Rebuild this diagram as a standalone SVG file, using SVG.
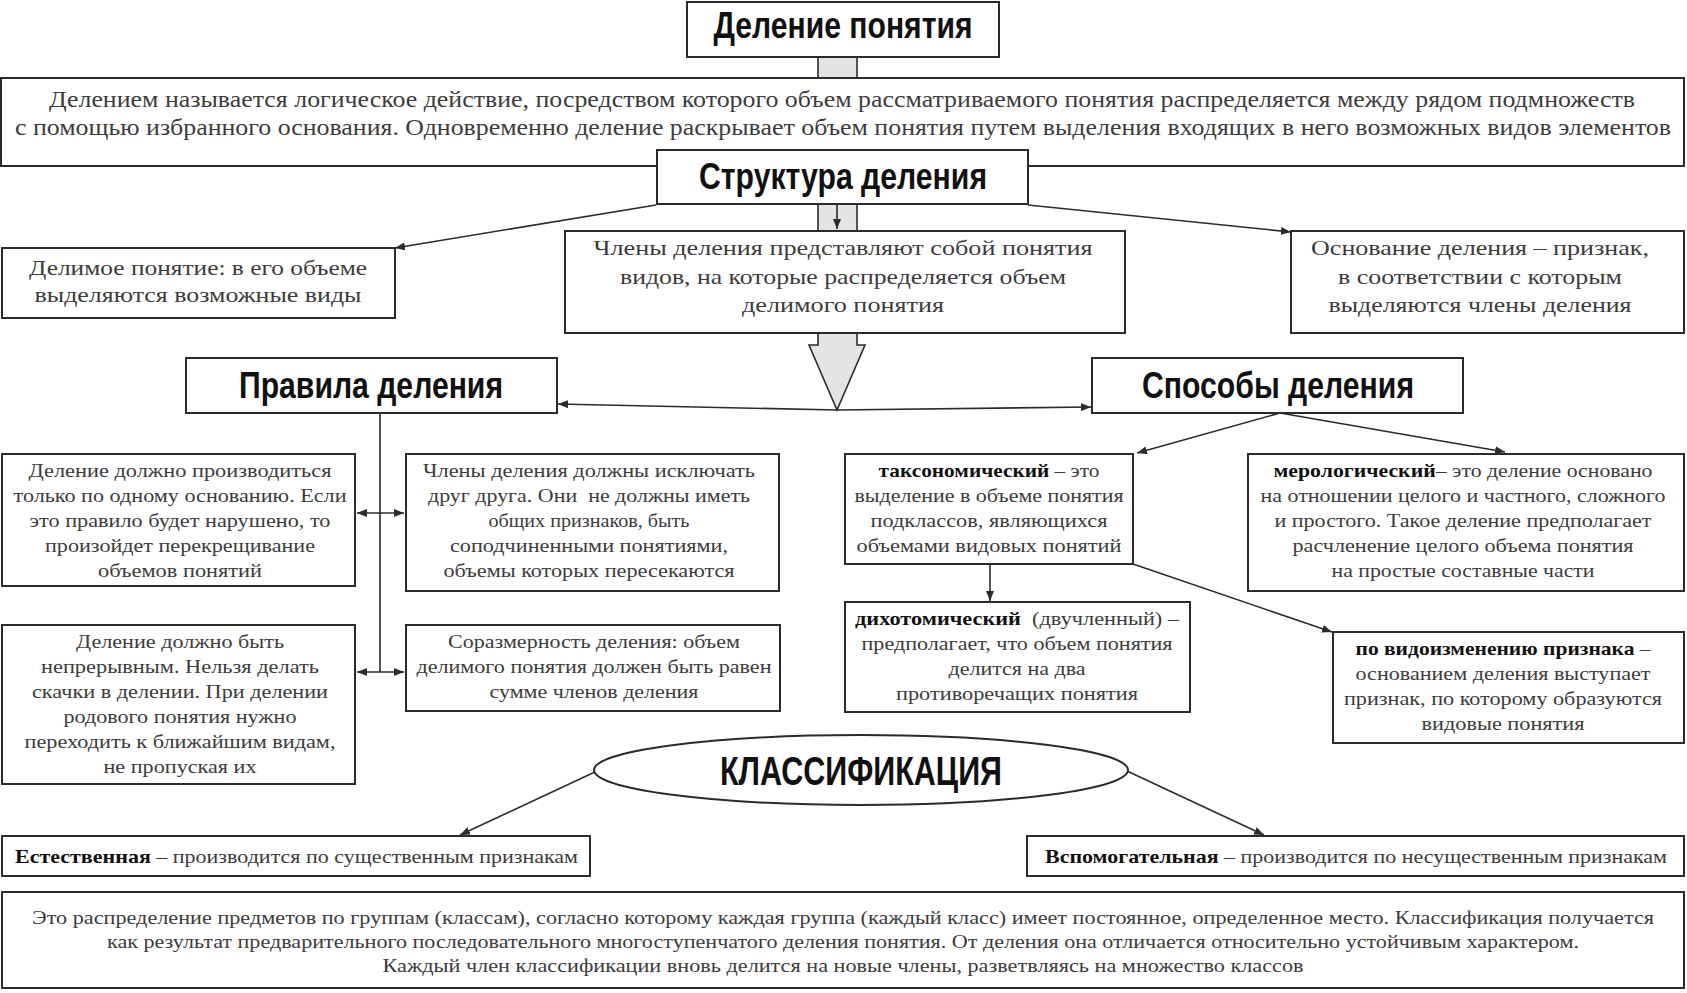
<svg xmlns="http://www.w3.org/2000/svg" width="1687" height="993" viewBox="0 0 1687 993">
<defs>
<style>
.box{fill:#fff;stroke:#2b2b2b;stroke-width:2}
.hd{font-family:"Liberation Sans",Arial,sans-serif;font-weight:bold;fill:#111;text-anchor:middle;font-size:36px}
.t{font-family:"Liberation Serif","Times New Roman",serif;fill:#3c3c3c;text-anchor:middle}
.st{text-anchor:start}
.f24{font-size:24px}
.f22{font-size:22px}
.f19{font-size:19px}
.f18{font-size:18px}
.b{font-weight:bold;fill:#111}
.ln{stroke:#2b2b2b;stroke-width:1.6;fill:none}
.gray{fill:#e4e4e4;stroke:#2b2b2b;stroke-width:1.6}
</style>
<marker id="ah" viewBox="0 0 10 8" refX="10" refY="4" markerWidth="10" markerHeight="8" markerUnits="userSpaceOnUse" orient="auto-start-reverse"><path d="M0,0 L10,4 L0,8 z" fill="#2b2b2b"/></marker>
</defs>
<rect width="1687" height="993" fill="#fff"/>

<g id="connectors">
<rect class="gray" x="818" y="57" width="39" height="21"/>
<rect class="gray" x="818" y="204" width="39" height="27"/>
<line class="ln" x1="837" y1="204" x2="837" y2="229" marker-end="url(#ah)"/>
<polygon class="gray" points="818,333 818,345 809,345 837,410 865,345 857,345 857,333"/>
<line class="ln" x1="656" y1="205" x2="395" y2="248" marker-end="url(#ah)"/>
<line class="ln" x1="1028" y1="205" x2="1291" y2="232" marker-end="url(#ah)"/>
<line class="ln" x1="837" y1="410" x2="558" y2="404" marker-end="url(#ah)"/>
<line class="ln" x1="837" y1="410" x2="1091" y2="407" marker-end="url(#ah)"/>
<line class="ln" x1="380" y1="413" x2="380" y2="672"/>
<line class="ln" x1="357" y1="513" x2="404" y2="513" marker-start="url(#ah)" marker-end="url(#ah)"/>
<line class="ln" x1="357" y1="672" x2="404" y2="672" marker-start="url(#ah)" marker-end="url(#ah)"/>
<line class="ln" x1="1280" y1="413" x2="1137" y2="453" marker-end="url(#ah)"/>
<line class="ln" x1="1280" y1="413" x2="1505" y2="452" marker-end="url(#ah)"/>
<line class="ln" x1="990" y1="564" x2="990" y2="601" marker-end="url(#ah)"/>
<line class="ln" x1="1133" y1="564" x2="1332" y2="632" marker-end="url(#ah)"/>
<line class="ln" x1="597" y1="771" x2="460" y2="835" marker-end="url(#ah)"/>
<line class="ln" x1="1127" y1="771" x2="1264" y2="835" marker-end="url(#ah)"/>
</g>

<g id="title">
<rect class="box" x="687" y="2" width="312" height="55"/>
<text class="hd" x="843" y="38" textLength="259" lengthAdjust="spacingAndGlyphs">Деление понятия</text>
</g>

<g id="definition">
<rect class="box" x="1" y="78" width="1683" height="88"/>
<text class="t f24" x="842" y="107" textLength="1586" lengthAdjust="spacingAndGlyphs">Делением называется логическое действие, посредством которого объем рассматриваемого понятия распределяется между рядом подмножеств</text>
<text class="t f24" x="843" y="135" textLength="1656" lengthAdjust="spacingAndGlyphs">с помощью избранного основания. Одновременно деление раскрывает объем понятия путем выделения входящих в него возможных видов элементов</text>
</g>

<g id="structure">
<rect class="box" x="657" y="150" width="371" height="54"/>
<text class="hd" x="843" y="189" textLength="288" lengthAdjust="spacingAndGlyphs">Структура деления</text>
</g>

<g id="divisible">
<rect class="box" x="2" y="248" width="393" height="70"/>
<text class="t f22" x="198" y="275" textLength="338" lengthAdjust="spacingAndGlyphs">Делимое понятие: в его объеме</text>
<text class="t f22" x="198" y="302" textLength="327" lengthAdjust="spacingAndGlyphs">выделяются возможные виды</text>
</g>

<g id="members">
<rect class="box" x="565" y="231" width="560" height="102"/>
<text class="t f22" x="843" y="255" textLength="499" lengthAdjust="spacingAndGlyphs">Члены деления представляют собой понятия</text>
<text class="t f22" x="843" y="284" textLength="446" lengthAdjust="spacingAndGlyphs">видов, на которые распределяется объем</text>
<text class="t f22" x="843" y="312" textLength="202" lengthAdjust="spacingAndGlyphs">делимого понятия</text>
</g>

<g id="basis">
<rect class="box" x="1291" y="231" width="393" height="102"/>
<text class="t f22" x="1480" y="255" textLength="338" lengthAdjust="spacingAndGlyphs">Основание деления – признак,</text>
<text class="t f22" x="1480" y="284" textLength="284" lengthAdjust="spacingAndGlyphs">в соответствии с которым</text>
<text class="t f22" x="1480" y="312" textLength="303" lengthAdjust="spacingAndGlyphs">выделяются члены деления</text>
</g>

<g id="rules">
<rect class="box" x="186" y="358" width="371" height="55"/>
<text class="hd" x="371" y="398" textLength="264" lengthAdjust="spacingAndGlyphs">Правила деления</text>
</g>

<g id="methods">
<rect class="box" x="1092" y="358" width="371" height="55"/>
<text class="hd" x="1278" y="398" textLength="272" lengthAdjust="spacingAndGlyphs">Способы деления</text>
</g>

<g id="rule1">
<rect class="box" x="2" y="454" width="353" height="132"/>
<text class="t f19" x="180" y="477" textLength="303" lengthAdjust="spacingAndGlyphs">Деление должно производиться</text>
<text class="t f19" x="180" y="502" textLength="333" lengthAdjust="spacingAndGlyphs">только по одному основанию. Если</text>
<text class="t f19" x="180" y="527" textLength="301" lengthAdjust="spacingAndGlyphs">это правило будет нарушено, то</text>
<text class="t f19" x="180" y="552" textLength="270" lengthAdjust="spacingAndGlyphs">произойдет перекрещивание</text>
<text class="t f19" x="180" y="577" textLength="164" lengthAdjust="spacingAndGlyphs">объемов понятий</text>
</g>

<g id="rule2">
<rect class="box" x="406" y="454" width="373" height="137"/>
<text class="t f19" x="589" y="477" textLength="332" lengthAdjust="spacingAndGlyphs">Члены деления должны исключать</text>
<text class="t f19" x="589" y="502" textLength="322" lengthAdjust="spacingAndGlyphs" xml:space="preserve">друг друга. Они  не должны иметь</text>
<text class="t f19" x="589" y="527" textLength="201" lengthAdjust="spacingAndGlyphs">общих признаков, быть</text>
<text class="t f19" x="589" y="552" textLength="278" lengthAdjust="spacingAndGlyphs">соподчиненными понятиями,</text>
<text class="t f19" x="589" y="577" textLength="291" lengthAdjust="spacingAndGlyphs">объемы которых пересекаются</text>
</g>

<g id="rule3">
<rect class="box" x="2" y="625" width="353" height="159"/>
<text class="t f19" x="180" y="648" textLength="208" lengthAdjust="spacingAndGlyphs">Деление должно быть</text>
<text class="t f19" x="180" y="673" textLength="278" lengthAdjust="spacingAndGlyphs">непрерывным. Нельзя делать</text>
<text class="t f19" x="180" y="698" textLength="296" lengthAdjust="spacingAndGlyphs">скачки в делении. При делении</text>
<text class="t f19" x="180" y="723" textLength="233" lengthAdjust="spacingAndGlyphs">родового понятия нужно</text>
<text class="t f19" x="180" y="748" textLength="311" lengthAdjust="spacingAndGlyphs">переходить к ближайшим видам,</text>
<text class="t f19" x="180" y="773" textLength="153" lengthAdjust="spacingAndGlyphs">не пропуская их</text>
</g>

<g id="rule4">
<rect class="box" x="406" y="625" width="374" height="86"/>
<text class="t f19" x="594" y="648" textLength="292" lengthAdjust="spacingAndGlyphs">Соразмерность деления: объем</text>
<text class="t f19" x="594" y="673" textLength="355" lengthAdjust="spacingAndGlyphs">делимого понятия должен быть равен</text>
<text class="t f19" x="594" y="698" textLength="209" lengthAdjust="spacingAndGlyphs">сумме членов деления</text>
</g>

<g id="taxonomic">
<rect class="box" x="845" y="454" width="288" height="110"/>
<text class="t f19" x="989" y="477" textLength="221" lengthAdjust="spacingAndGlyphs"><tspan class="b">таксономический</tspan> – это</text>
<text class="t f19" x="989" y="502" textLength="269" lengthAdjust="spacingAndGlyphs">выделение в объеме понятия</text>
<text class="t f19" x="989" y="527" textLength="237" lengthAdjust="spacingAndGlyphs">подклассов, являющихся</text>
<text class="t f19" x="989" y="552" textLength="265" lengthAdjust="spacingAndGlyphs">объемами видовых понятий</text>
</g>

<g id="merological">
<rect class="box" x="1248" y="454" width="436" height="137"/>
<text class="t f19" x="1463" y="477" textLength="379" lengthAdjust="spacingAndGlyphs"><tspan class="b">мерологический</tspan>– это деление основано</text>
<text class="t f19" x="1463" y="502" textLength="405" lengthAdjust="spacingAndGlyphs">на отношении целого и частного, сложного</text>
<text class="t f19" x="1463" y="527" textLength="377" lengthAdjust="spacingAndGlyphs">и простого. Такое деление предполагает</text>
<text class="t f19" x="1463" y="552" textLength="341" lengthAdjust="spacingAndGlyphs">расчленение целого объема понятия</text>
<text class="t f19" x="1463" y="577" textLength="263" lengthAdjust="spacingAndGlyphs">на простые составные части</text>
</g>

<g id="dichotomic">
<rect class="box" x="845" y="602" width="345" height="110"/>
<text class="t f19" x="1017" y="625" textLength="324" lengthAdjust="spacingAndGlyphs" xml:space="preserve"><tspan class="b">дихотомический</tspan>  (двучленный) –</text>
<text class="t f19" x="1017" y="650" textLength="311" lengthAdjust="spacingAndGlyphs">предполагает, что объем понятия</text>
<text class="t f19" x="1017" y="675" textLength="137" lengthAdjust="spacingAndGlyphs">делится на два</text>
<text class="t f19" x="1017" y="700" textLength="242" lengthAdjust="spacingAndGlyphs">противоречащих понятия</text>
</g>

<g id="modification">
<rect class="box" x="1333" y="632" width="351" height="111"/>
<text class="t f19" x="1503" y="655" textLength="295" lengthAdjust="spacingAndGlyphs"><tspan class="b">по видоизменению признака</tspan> –</text>
<text class="t f19" x="1503" y="680" textLength="295" lengthAdjust="spacingAndGlyphs">основанием деления выступает</text>
<text class="t f19" x="1503" y="705" textLength="318" lengthAdjust="spacingAndGlyphs">признак, по которому образуются</text>
<text class="t f19" x="1503" y="730" textLength="163" lengthAdjust="spacingAndGlyphs">видовые понятия</text>
</g>

<g id="classification">
<ellipse cx="861" cy="770" rx="267" ry="35" fill="#fff" stroke="#2b2b2b" stroke-width="2"/>
<text class="hd" x="861" y="785" style="font-size:41px" textLength="282" lengthAdjust="spacingAndGlyphs">КЛАССИФИКАЦИЯ</text>
</g>

<g id="natural">
<rect class="box" x="2" y="836" width="588" height="40"/>
<text class="t f19 st" x="15" y="863" textLength="563" lengthAdjust="spacingAndGlyphs"><tspan class="b">Естественная</tspan> – производится по существенным признакам</text>
</g>

<g id="auxiliary">
<rect class="box" x="1027" y="836" width="657" height="40"/>
<text class="t f19 st" x="1045" y="863" textLength="622" lengthAdjust="spacingAndGlyphs"><tspan class="b">Вспомогательная</tspan> – производится по несущественным признакам</text>
</g>

<g id="classification-def">
<rect class="box" x="2" y="892" width="1682" height="96"/>
<text class="t f18" x="843" y="924" textLength="1622" lengthAdjust="spacingAndGlyphs">Это распределение предметов по группам (классам), согласно которому каждая группа (каждый класс) имеет постоянное, определенное место. Классификация получается</text>
<text class="t f18" x="843" y="948" textLength="1472" lengthAdjust="spacingAndGlyphs">как результат предварительного последовательного многоступенчатого деления понятия. От деления она отличается относительно устойчивым характером.</text>
<text class="t f18" x="843" y="972" textLength="921" lengthAdjust="spacingAndGlyphs">Каждый член классификации вновь делится на новые члены, разветвляясь на множество классов</text>
</g>
</svg>
